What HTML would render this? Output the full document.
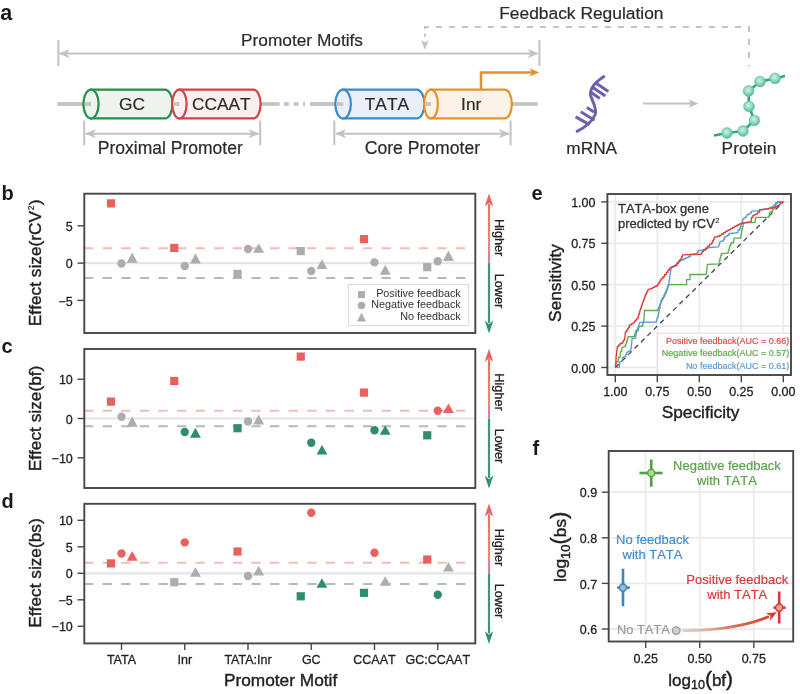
<!DOCTYPE html>
<html><head><meta charset="utf-8"><title>Promoter motifs figure</title>
<style>html,body{margin:0;padding:0;background:#fff;} svg{display:block;} text{font-family:"Liberation Sans", Arial, Helvetica, sans-serif;font-kerning:none;} text.k{font-kerning:normal;}</style>
</head><body>
<svg width="800" height="694" viewBox="0 0 800 694">
<rect width="800" height="694" fill="#fff"/>
<text x="0.30" y="19.70" font-size="21.5" text-anchor="start" fill="#1a1a1a" font-weight="bold" >a</text>
<text x="1.50" y="200.00" font-size="20" text-anchor="start" fill="#1a1a1a" font-weight="bold" >b</text>
<text x="1.50" y="352.70" font-size="20" text-anchor="start" fill="#1a1a1a" font-weight="bold" >c</text>
<text x="1.50" y="508.00" font-size="20" text-anchor="start" fill="#1a1a1a" font-weight="bold" >d</text>
<text x="531.50" y="200.00" font-size="20" text-anchor="start" fill="#1a1a1a" font-weight="bold" >e</text>
<text x="532.50" y="455.00" font-size="20" text-anchor="start" fill="#1a1a1a" font-weight="bold" >f</text>
<g stroke="#c3c3c3" stroke-width="2" fill="none">
<line x1="58.4" y1="40" x2="58.4" y2="66"/><line x1="539.4" y1="40" x2="539.4" y2="66"/>
<line x1="60" y1="53.6" x2="537" y2="53.6"/>
<line x1="84.2" y1="120.5" x2="84.2" y2="145.3"/><line x1="260.2" y1="120.5" x2="260.2" y2="145.3"/>
<line x1="86" y1="133.7" x2="258.5" y2="133.7"/>
<line x1="334.3" y1="120.5" x2="334.3" y2="145.3"/><line x1="510.6" y1="120.5" x2="510.6" y2="145.3"/>
<line x1="336" y1="133.7" x2="509" y2="133.7"/>
<line x1="643" y1="103.6" x2="692" y2="103.6"/>
</g>
<path d="M58.80,53.60 L69.80,49.00 L66.72,53.60 L69.80,58.20 Z" fill="#c3c3c3"/>
<path d="M538.60,53.60 L527.60,58.20 L530.68,53.60 L527.60,49.00 Z" fill="#c3c3c3"/>
<path d="M85.00,133.70 L96.00,129.10 L92.92,133.70 L96.00,138.30 Z" fill="#c3c3c3"/>
<path d="M259.40,133.70 L248.40,138.30 L251.48,133.70 L248.40,129.10 Z" fill="#c3c3c3"/>
<path d="M335.10,133.70 L346.10,129.10 L343.02,133.70 L346.10,138.30 Z" fill="#c3c3c3"/>
<path d="M509.80,133.70 L498.80,138.30 L501.88,133.70 L498.80,129.10 Z" fill="#c3c3c3"/>
<path d="M698.40,103.60 L688.40,108.00 L691.20,103.60 L688.40,99.20 Z" fill="#c3c3c3"/>
<path d="M424.9,30 V27 H749 V66" stroke="#c3c3c3" stroke-width="2" fill="none" stroke-dasharray="6 7" stroke-dashoffset="-1"/>
<line x1="424.9" y1="33.8" x2="424.9" y2="36.8" stroke="#c3c3c3" stroke-width="2"/>
<path d="M424.9,49.7 L428.6,40.2 L424.9,42.2 L421.2,40.2 Z" fill="#c3c3c3"/>
<text x="499.20" y="19.40" font-size="17.4" text-anchor="start" fill="#2a2a2a" font-weight="normal" stroke="#2a2a2a" stroke-width="0.2" >Feedback Regulation</text>
<text x="302.00" y="45.60" font-size="17.3" text-anchor="middle" fill="#2a2a2a" font-weight="normal" stroke="#2a2a2a" stroke-width="0.2" >Promoter Motifs</text>
<text x="170.30" y="154.00" font-size="17.5" text-anchor="middle" fill="#2a2a2a" font-weight="normal" stroke="#2a2a2a" stroke-width="0.2" >Proximal Promoter</text>
<text x="422.40" y="154.00" font-size="17.6" text-anchor="middle" fill="#2a2a2a" font-weight="normal" stroke="#2a2a2a" stroke-width="0.2" >Core Promoter</text>
<text x="591.70" y="153.70" font-size="17.3" text-anchor="middle" fill="#2a2a2a" font-weight="normal" stroke="#2a2a2a" stroke-width="0.2" >mRNA</text>
<text x="749.00" y="153.60" font-size="17.3" text-anchor="middle" fill="#2a2a2a" font-weight="normal" stroke="#2a2a2a" stroke-width="0.2" >Protein</text>
<g stroke="#c4c4c4" stroke-width="3.8" fill="none">
<line x1="57.3" y1="104" x2="91" y2="104"/>
<line x1="260" y1="104" x2="279.6" y2="104"/>
<line x1="284" y1="104" x2="288.8" y2="104"/><line x1="293.8" y1="104" x2="298.4" y2="104"/><line x1="303" y1="104" x2="305" y2="104"/>
<line x1="310" y1="104" x2="343" y2="104"/>
<line x1="511" y1="104" x2="537.8" y2="104"/>
</g>
<path d="M91,89.6 H164.9 A7.6,14.4 0 0 1 164.9,118.4 H91 Z" fill="#eff3ee" stroke="#23904a" stroke-width="2.2"/>
<ellipse cx="91" cy="104" rx="7.6" ry="14.4" fill="#eff3ee" stroke="#23904a" stroke-width="2.2"/>
<line x1="84.9" y1="104" x2="91" y2="104" stroke="#c4c4c4" stroke-width="3.8"/>
<text x="132.00" y="110.00" font-size="17.3" text-anchor="middle" fill="#2a2a2a" font-weight="normal" stroke="#2a2a2a" stroke-width="0.2" style="font-kerning:none">GC</text>
<path d="M179.4,89.6 H253.40000000000003 A7.2,14.4 0 0 1 253.40000000000003,118.4 H179.4 Z" fill="#fcf0ee" stroke="#cd444c" stroke-width="2.2"/>
<ellipse cx="179.4" cy="104" rx="7.2" ry="14.4" fill="#fcf0ee" stroke="#cd444c" stroke-width="2.2"/>
<line x1="173.70000000000002" y1="104" x2="179.4" y2="104" stroke="#c4c4c4" stroke-width="3.8"/>
<text x="221.40" y="110.00" font-size="17.3" text-anchor="middle" fill="#2a2a2a" font-weight="normal" stroke="#2a2a2a" stroke-width="0.2" style="font-kerning:none">CCAAT</text>
<path d="M343.1,89.6 H416.7 A7.8,14.4 0 0 1 416.7,118.4 H343.1 Z" fill="#e9eef8" stroke="#3a89c9" stroke-width="2.2"/>
<ellipse cx="343.1" cy="104" rx="7.8" ry="14.4" fill="#e9eef8" stroke="#3a89c9" stroke-width="2.2"/>
<line x1="336.8" y1="104" x2="343.1" y2="104" stroke="#c4c4c4" stroke-width="3.8"/>
<text x="386.90" y="110.00" font-size="17.3" text-anchor="middle" fill="#2a2a2a" font-weight="normal" stroke="#2a2a2a" stroke-width="0.2" style="font-kerning:none">TATA</text>
<path d="M431,89.6 H504.90000000000003 A6.9,14.4 0 0 1 504.90000000000003,118.4 H431 Z" fill="#fdf2e8" stroke="#e3922c" stroke-width="2.2"/>
<ellipse cx="431" cy="104" rx="6.9" ry="14.4" fill="#fdf2e8" stroke="#e3922c" stroke-width="2.2"/>
<line x1="425.6" y1="104" x2="431" y2="104" stroke="#c4c4c4" stroke-width="3.8"/>
<text x="471.20" y="110.00" font-size="17.3" text-anchor="middle" fill="#2a2a2a" font-weight="normal" stroke="#2a2a2a" stroke-width="0.2" style="font-kerning:none">Inr</text>
<path d="M481,89.8 V72.4 H532" stroke="#e3922c" stroke-width="2.5" fill="none"/>
<path d="M539.40,72.40 L529.40,76.60 L532.20,72.40 L529.40,68.20 Z" fill="#e3922c"/>
<g stroke="#6a62ad" stroke-width="3" fill="none" stroke-linecap="butt">
<path d="M576.1,131.9 C585,127.5 592,122 595,115 C597.5,108 592,101 590.6,95.3 C589.5,88 597,81 604.7,76.1"/>
<line x1="595.8" y1="83.1" x2="608.4" y2="91.6"/>
<line x1="592.8" y1="87.6" x2="605.4" y2="96.1"/>
<line x1="591.2" y1="92.6" x2="599.8" y2="98.4"/>
<line x1="586.9" y1="107.5" x2="593.9" y2="111.9"/>
<line x1="580.8" y1="111.7" x2="594.6" y2="120.2"/>
<line x1="575.6" y1="116.9" x2="589.6" y2="124.6"/>
</g>
<defs><radialGradient id="bead" cx="45%" cy="40%" r="60%"><stop offset="0" stop-color="#d4f3e6"/><stop offset="0.55" stop-color="#8fd8bd"/><stop offset="1" stop-color="#4dbb96"/></radialGradient></defs>
<polyline points="714,135.6 727,133 743,131 754.4,120.4 749,106.4 748.6,91 760,81.6 775,78.4 785,76" stroke="#2fa383" stroke-width="2.6" fill="none"/>
<circle cx="727" cy="133" r="5.4" fill="url(#bead)" stroke="#5cc3a0" stroke-width="0.6"/>
<circle cx="743" cy="131" r="5.4" fill="url(#bead)" stroke="#5cc3a0" stroke-width="0.6"/>
<circle cx="754.4" cy="120.4" r="5.4" fill="url(#bead)" stroke="#5cc3a0" stroke-width="0.6"/>
<circle cx="749" cy="106.4" r="5.4" fill="url(#bead)" stroke="#5cc3a0" stroke-width="0.6"/>
<circle cx="748.6" cy="91" r="5.4" fill="url(#bead)" stroke="#5cc3a0" stroke-width="0.6"/>
<circle cx="760" cy="81.6" r="5.4" fill="url(#bead)" stroke="#5cc3a0" stroke-width="0.6"/>
<circle cx="775" cy="78.4" r="5.4" fill="url(#bead)" stroke="#5cc3a0" stroke-width="0.6"/>
<line x1="84.3" y1="263.1" x2="475.3" y2="263.1" stroke="#e5e5e5" stroke-width="2.2"/>
<line x1="84" y1="248.18" x2="468" y2="248.18" stroke="#f4bdb4" stroke-width="2" stroke-dasharray="9.3 9.3"/>
<line x1="84" y1="278.02" x2="468" y2="278.02" stroke="#adbeb5" stroke-width="2" stroke-dasharray="9.3 9.3"/>
<rect x="106.90" y="199.30" width="8.2" height="8.2" fill="#e8615f"/>
<circle cx="121.50" cy="263.50" r="4.2" fill="#adadad"/>
<path d="M132.20,252.50 L137.65,262.75 L126.75,262.75 Z" fill="#adadad"/>
<rect x="170.15" y="243.80" width="8.2" height="8.2" fill="#e8615f"/>
<circle cx="184.75" cy="266.00" r="4.2" fill="#adadad"/>
<path d="M195.45,253.25 L200.90,263.50 L190.00,263.50 Z" fill="#adadad"/>
<rect x="233.40" y="269.80" width="8.2" height="8.2" fill="#adadad"/>
<circle cx="248.00" cy="249.00" r="4.2" fill="#adadad"/>
<path d="M258.70,243.50 L264.15,252.70 L253.25,252.70 Z" fill="#adadad"/>
<rect x="296.65" y="247.00" width="8.2" height="8.2" fill="#adadad"/>
<circle cx="311.25" cy="271.00" r="4.2" fill="#adadad"/>
<path d="M321.95,259.25 L327.40,269.00 L316.50,269.00 Z" fill="#adadad"/>
<rect x="359.90" y="235.00" width="8.2" height="8.2" fill="#e8615f"/>
<circle cx="374.50" cy="262.40" r="4.2" fill="#adadad"/>
<path d="M385.20,264.90 L390.65,274.75 L379.75,274.75 Z" fill="#adadad"/>
<rect x="423.15" y="263.10" width="8.2" height="8.2" fill="#adadad"/>
<circle cx="437.75" cy="261.25" r="4.2" fill="#adadad"/>
<path d="M448.45,250.50 L453.90,260.90 L443.00,260.90 Z" fill="#adadad"/>
<rect x="84.3" y="193.7" width="391.0" height="139.3" fill="none" stroke="#474747" stroke-width="1.9"/>
<line x1="77.5" y1="225.80" x2="84.3" y2="225.80" stroke="#474747" stroke-width="1.4"/>
<text x="72.80" y="230.90" font-size="12.5" text-anchor="end" fill="#231f20" font-weight="normal" stroke="#231f20" stroke-width="0.3" >5</text>
<line x1="77.5" y1="263.10" x2="84.3" y2="263.10" stroke="#474747" stroke-width="1.4"/>
<text x="72.80" y="268.20" font-size="12.5" text-anchor="end" fill="#231f20" font-weight="normal" stroke="#231f20" stroke-width="0.3" >0</text>
<line x1="77.5" y1="300.40" x2="84.3" y2="300.40" stroke="#474747" stroke-width="1.4"/>
<text x="72.80" y="305.50" font-size="12.5" text-anchor="end" fill="#231f20" font-weight="normal" stroke="#231f20" stroke-width="0.3" >&#8722;5</text>
<text transform="translate(40.5,262.8) rotate(-90)" x="0" y="0" font-size="17.3" text-anchor="middle" fill="#231f20" stroke="#231f20" stroke-width="0.42">Effect size(rCV<tspan font-size="8.5" dx="0.6" dy="-6.2" stroke-width="0.2">2</tspan><tspan dx="0.4" dy="6.2">)</tspan></text>
<defs><linearGradient id="sa193" x1="0" y1="193.7" x2="0" y2="263.1" gradientUnits="userSpaceOnUse"><stop offset="0" stop-color="#e56b66"/><stop offset="0.75" stop-color="#e8867a"/><stop offset="0.88" stop-color="#dc7f9a"/><stop offset="1" stop-color="#c98aa6"/></linearGradient></defs>
<line x1="489" y1="203.7" x2="489" y2="263.1" stroke="url(#sa193)" stroke-width="2.2"/>
<line x1="489" y1="263.1" x2="489" y2="323" stroke="#379a7b" stroke-width="2.2"/>
<path d="M489.00,193.50 L493.30,206.50 L489.00,202.86 L484.70,206.50 Z" fill="#e5625f"/>
<path d="M489.00,333.60 L484.70,320.60 L489.00,324.24 L493.30,320.60 Z" fill="#2f8f70"/>
<text transform="translate(494.5,237.6) rotate(90)" x="0" y="0" font-size="12.7" text-anchor="middle" fill="#231f20" stroke="#231f20" stroke-width="0.3">Higher</text>
<text transform="translate(494.5,291) rotate(90)" x="0" y="0" font-size="12.7" text-anchor="middle" fill="#231f20" stroke="#231f20" stroke-width="0.3">Lower</text>
<line x1="84.3" y1="418.5" x2="475.3" y2="418.5" stroke="#e5e5e5" stroke-width="2.2"/>
<line x1="84" y1="410.64" x2="468" y2="410.64" stroke="#f4bdb4" stroke-width="2" stroke-dasharray="9.3 9.3"/>
<line x1="84" y1="426.36" x2="468" y2="426.36" stroke="#adbeb5" stroke-width="2" stroke-dasharray="9.3 9.3"/>
<rect x="106.90" y="397.50" width="8.2" height="8.2" fill="#e8615f"/>
<circle cx="121.50" cy="416.70" r="4.2" fill="#adadad"/>
<path d="M132.20,416.50 L137.65,426.75 L126.75,426.75 Z" fill="#adadad"/>
<rect x="170.15" y="376.90" width="8.2" height="8.2" fill="#e8615f"/>
<circle cx="184.75" cy="432.00" r="4.2" fill="#2f8d6c"/>
<path d="M195.45,427.75 L200.90,437.70 L190.00,437.70 Z" fill="#2f8d6c"/>
<rect x="233.40" y="424.10" width="8.2" height="8.2" fill="#2f8d6c"/>
<circle cx="248.00" cy="421.50" r="4.2" fill="#adadad"/>
<path d="M258.70,414.50 L264.15,424.50 L253.25,424.50 Z" fill="#adadad"/>
<rect x="296.65" y="352.50" width="8.2" height="8.2" fill="#e8615f"/>
<circle cx="311.25" cy="442.70" r="4.2" fill="#2f8d6c"/>
<path d="M321.95,445.10 L327.40,454.60 L316.50,454.60 Z" fill="#2f8d6c"/>
<rect x="359.90" y="388.50" width="8.2" height="8.2" fill="#e8615f"/>
<circle cx="374.50" cy="430.30" r="4.2" fill="#2f8d6c"/>
<path d="M385.20,425.30 L390.65,434.80 L379.75,434.80 Z" fill="#2f8d6c"/>
<rect x="423.15" y="431.20" width="8.2" height="8.2" fill="#2f8d6c"/>
<circle cx="437.75" cy="410.75" r="4.2" fill="#e8615f"/>
<path d="M448.45,403.50 L453.90,413.00 L443.00,413.00 Z" fill="#e8615f"/>
<rect x="84.3" y="349" width="391.0" height="139" fill="none" stroke="#474747" stroke-width="1.9"/>
<line x1="77.5" y1="379.20" x2="84.3" y2="379.20" stroke="#474747" stroke-width="1.4"/>
<text x="72.80" y="384.30" font-size="12.5" text-anchor="end" fill="#231f20" font-weight="normal" stroke="#231f20" stroke-width="0.3" >10</text>
<line x1="77.5" y1="418.50" x2="84.3" y2="418.50" stroke="#474747" stroke-width="1.4"/>
<text x="72.80" y="423.60" font-size="12.5" text-anchor="end" fill="#231f20" font-weight="normal" stroke="#231f20" stroke-width="0.3" >0</text>
<line x1="77.5" y1="457.80" x2="84.3" y2="457.80" stroke="#474747" stroke-width="1.4"/>
<text x="72.80" y="462.90" font-size="12.5" text-anchor="end" fill="#231f20" font-weight="normal" stroke="#231f20" stroke-width="0.3" >&#8722;10</text>
<text transform="translate(40.5,418.5) rotate(-90)" x="0" y="0" font-size="17.3" text-anchor="middle" fill="#231f20" stroke="#231f20" stroke-width="0.42">Effect size(bf)</text>
<defs><linearGradient id="sa349" x1="0" y1="349" x2="0" y2="418.5" gradientUnits="userSpaceOnUse"><stop offset="0" stop-color="#e56b66"/><stop offset="0.75" stop-color="#e8867a"/><stop offset="0.88" stop-color="#dc7f9a"/><stop offset="1" stop-color="#c98aa6"/></linearGradient></defs>
<line x1="489" y1="359" x2="489" y2="418.5" stroke="url(#sa349)" stroke-width="2.2"/>
<line x1="489" y1="418.5" x2="489" y2="478" stroke="#379a7b" stroke-width="2.2"/>
<path d="M489.00,348.80 L493.30,361.80 L489.00,358.16 L484.70,361.80 Z" fill="#e5625f"/>
<path d="M489.00,488.60 L484.70,475.60 L489.00,479.24 L493.30,475.60 Z" fill="#2f8f70"/>
<text transform="translate(494.5,392) rotate(90)" x="0" y="0" font-size="12.7" text-anchor="middle" fill="#231f20" stroke="#231f20" stroke-width="0.3">Higher</text>
<text transform="translate(494.5,446) rotate(90)" x="0" y="0" font-size="12.7" text-anchor="middle" fill="#231f20" stroke="#231f20" stroke-width="0.3">Lower</text>
<line x1="84.3" y1="573.3" x2="475.3" y2="573.3" stroke="#e5e5e5" stroke-width="2.2"/>
<line x1="84" y1="562.70" x2="468" y2="562.70" stroke="#f4bdb4" stroke-width="2" stroke-dasharray="9.3 9.3"/>
<line x1="84" y1="583.90" x2="468" y2="583.90" stroke="#adbeb5" stroke-width="2" stroke-dasharray="9.3 9.3"/>
<rect x="106.90" y="559.30" width="8.2" height="8.2" fill="#e8615f"/>
<circle cx="121.50" cy="553.50" r="4.2" fill="#e8615f"/>
<path d="M132.20,550.90 L137.65,560.75 L126.75,560.75 Z" fill="#e8615f"/>
<rect x="170.15" y="578.10" width="8.2" height="8.2" fill="#adadad"/>
<circle cx="184.75" cy="542.40" r="4.2" fill="#e8615f"/>
<path d="M195.45,567.00 L200.90,576.80 L190.00,576.80 Z" fill="#adadad"/>
<rect x="233.40" y="547.40" width="8.2" height="8.2" fill="#e8615f"/>
<circle cx="248.00" cy="576.00" r="4.2" fill="#adadad"/>
<path d="M258.70,565.80 L264.15,575.40 L253.25,575.40 Z" fill="#adadad"/>
<rect x="296.65" y="592.20" width="8.2" height="8.2" fill="#2f8d6c"/>
<circle cx="311.25" cy="512.75" r="4.2" fill="#e8615f"/>
<path d="M321.95,578.20 L327.40,587.70 L316.50,587.70 Z" fill="#2f8d6c"/>
<rect x="359.90" y="588.75" width="8.2" height="8.2" fill="#2f8d6c"/>
<circle cx="374.50" cy="552.80" r="4.2" fill="#e8615f"/>
<path d="M385.20,576.20 L390.65,585.70 L379.75,585.70 Z" fill="#adadad"/>
<rect x="423.15" y="555.40" width="8.2" height="8.2" fill="#e8615f"/>
<circle cx="437.75" cy="594.70" r="4.2" fill="#2f8d6c"/>
<path d="M448.45,562.00 L453.90,571.50 L443.00,571.50 Z" fill="#adadad"/>
<rect x="84.3" y="503.8" width="391.0" height="139.59999999999997" fill="none" stroke="#474747" stroke-width="1.9"/>
<line x1="77.5" y1="520.30" x2="84.3" y2="520.30" stroke="#474747" stroke-width="1.4"/>
<text x="72.80" y="525.40" font-size="12.5" text-anchor="end" fill="#231f20" font-weight="normal" stroke="#231f20" stroke-width="0.3" >10</text>
<line x1="77.5" y1="546.80" x2="84.3" y2="546.80" stroke="#474747" stroke-width="1.4"/>
<text x="72.80" y="551.90" font-size="12.5" text-anchor="end" fill="#231f20" font-weight="normal" stroke="#231f20" stroke-width="0.3" >5</text>
<line x1="77.5" y1="573.30" x2="84.3" y2="573.30" stroke="#474747" stroke-width="1.4"/>
<text x="72.80" y="578.40" font-size="12.5" text-anchor="end" fill="#231f20" font-weight="normal" stroke="#231f20" stroke-width="0.3" >0</text>
<line x1="77.5" y1="599.80" x2="84.3" y2="599.80" stroke="#474747" stroke-width="1.4"/>
<text x="72.80" y="604.90" font-size="12.5" text-anchor="end" fill="#231f20" font-weight="normal" stroke="#231f20" stroke-width="0.3" >&#8722;5</text>
<line x1="77.5" y1="626.30" x2="84.3" y2="626.30" stroke="#474747" stroke-width="1.4"/>
<text x="72.80" y="631.40" font-size="12.5" text-anchor="end" fill="#231f20" font-weight="normal" stroke="#231f20" stroke-width="0.3" >&#8722;10</text>
<text transform="translate(40.5,573) rotate(-90)" x="0" y="0" font-size="17.3" text-anchor="middle" fill="#231f20" stroke="#231f20" stroke-width="0.42">Effect size(bs)</text>
<defs><linearGradient id="sa503" x1="0" y1="503.8" x2="0" y2="573.3" gradientUnits="userSpaceOnUse"><stop offset="0" stop-color="#e56b66"/><stop offset="0.75" stop-color="#e8867a"/><stop offset="0.88" stop-color="#dc7f9a"/><stop offset="1" stop-color="#c98aa6"/></linearGradient></defs>
<line x1="489" y1="513.8" x2="489" y2="573.3" stroke="url(#sa503)" stroke-width="2.2"/>
<line x1="489" y1="573.3" x2="489" y2="633.4" stroke="#379a7b" stroke-width="2.2"/>
<path d="M489.00,503.60 L493.30,516.60 L489.00,512.96 L484.70,516.60 Z" fill="#e5625f"/>
<path d="M489.00,644.00 L484.70,631.00 L489.00,634.64 L493.30,631.00 Z" fill="#2f8f70"/>
<text transform="translate(494.5,547.5) rotate(90)" x="0" y="0" font-size="12.7" text-anchor="middle" fill="#231f20" stroke="#231f20" stroke-width="0.3">Higher</text>
<text transform="translate(494.5,601) rotate(90)" x="0" y="0" font-size="12.7" text-anchor="middle" fill="#231f20" stroke="#231f20" stroke-width="0.3">Lower</text>
<rect x="348.4" y="284.5" width="120.2" height="41.1" fill="#fff" stroke="#d9d9d9" stroke-width="1"/>
<rect x="358.00" y="291.10" width="7" height="7" fill="#adadad"/>
<circle cx="361.50" cy="305.50" r="3.8" fill="#adadad"/>
<path d="M361.50,312.80 L366.00,321.40 L357.00,321.40 Z" fill="#adadad"/>
<text x="460.75" y="297.25" font-size="10.8" text-anchor="end" fill="#333" font-weight="normal" >Positive feedback</text>
<text x="460.75" y="308.20" font-size="10.8" text-anchor="end" fill="#333" font-weight="normal" >Negative feedback</text>
<text x="460.75" y="319.50" font-size="10.8" text-anchor="end" fill="#333" font-weight="normal" >No feedback</text>
<line x1="121.50" y1="643.4" x2="121.50" y2="650" stroke="#474747" stroke-width="1.4"/>
<text x="121.50" y="664.00" font-size="12.5" text-anchor="middle" fill="#231f20" font-weight="normal" stroke="#231f20" stroke-width="0.3" class="k">TATA</text>
<line x1="184.75" y1="643.4" x2="184.75" y2="650" stroke="#474747" stroke-width="1.4"/>
<text x="184.75" y="664.00" font-size="12.5" text-anchor="middle" fill="#231f20" font-weight="normal" stroke="#231f20" stroke-width="0.3" >Inr</text>
<line x1="248.00" y1="643.4" x2="248.00" y2="650" stroke="#474747" stroke-width="1.4"/>
<text x="248.00" y="664.00" font-size="12.5" text-anchor="middle" fill="#231f20" font-weight="normal" stroke="#231f20" stroke-width="0.3" class="k">TATA:Inr</text>
<line x1="311.25" y1="643.4" x2="311.25" y2="650" stroke="#474747" stroke-width="1.4"/>
<text x="311.25" y="664.00" font-size="12.5" text-anchor="middle" fill="#231f20" font-weight="normal" stroke="#231f20" stroke-width="0.3" >GC</text>
<line x1="374.50" y1="643.4" x2="374.50" y2="650" stroke="#474747" stroke-width="1.4"/>
<text x="374.50" y="664.00" font-size="12.5" text-anchor="middle" fill="#231f20" font-weight="normal" stroke="#231f20" stroke-width="0.3" >CCAAT</text>
<line x1="437.75" y1="643.4" x2="437.75" y2="650" stroke="#474747" stroke-width="1.4"/>
<text x="437.75" y="664.00" font-size="12.5" text-anchor="middle" fill="#231f20" font-weight="normal" stroke="#231f20" stroke-width="0.3" >GC:CCAAT</text>
<text x="280.60" y="685.70" font-size="17.3" text-anchor="middle" fill="#231f20" font-weight="normal" stroke="#231f20" stroke-width="0.42" >Promoter Motif</text>
<g stroke="#ebebeb" stroke-width="1.8">
<line x1="783.30" y1="194.8" x2="783.30" y2="374.2"/>
<line x1="608.2" y1="367.50" x2="790.2" y2="367.50"/>
<line x1="741.30" y1="194.8" x2="741.30" y2="374.2"/>
<line x1="608.2" y1="326.10" x2="790.2" y2="326.10"/>
<line x1="699.30" y1="194.8" x2="699.30" y2="374.2"/>
<line x1="608.2" y1="284.70" x2="790.2" y2="284.70"/>
<line x1="657.30" y1="194.8" x2="657.30" y2="374.2"/>
<line x1="608.2" y1="243.30" x2="790.2" y2="243.30"/>
<line x1="615.30" y1="194.8" x2="615.30" y2="374.2"/>
<line x1="608.2" y1="201.90" x2="790.2" y2="201.90"/>
</g>
<line x1="615.3" y1="367.5" x2="783.3" y2="201.9" stroke="#444" stroke-width="1.3" stroke-dasharray="5 4"/>
<polyline points="615.3,367.6 615.3,365.97 615.57,365.97 615.57,364.33 615.83,364.33 615.83,362.7 616.1,362.7 616.1,361.9 618.1,361.9 618.5,357.5 620.1,357.1 620.5,352.3 620.5,351.5 621.7,351.5 622.1,347.4 625.3,346.6 625.3,344.73 626.0,344.73 626.0,342.87 626.7,342.87 626.7,341.0 627.4,341.0 627.4,338.95 627.8,338.95 627.8,336.9 628.2,336.9 634.6,336.5 634.6,334.3 635.2,334.3 635.2,332.1 635.8,332.1 635.8,330.5 638.2,330.5 639,326.5 642.7,326 642.7,324.05 643.2,324.05 643.2,322.1 643.7,322.1 644.4,310.5 658,310.5 658,308.97 658.63,308.97 658.63,307.43 659.27,307.43 659.27,305.9 659.9,305.9 659.9,304.17 660.57,304.17 660.57,302.43 661.23,302.43 661.23,300.7 661.9,300.7 661.9,299.0 662.77,299.0 662.77,297.3 663.63,297.3 663.63,295.6 664.5,295.6 664.5,293.87 665.37,293.87 665.37,292.13 666.23,292.13 666.23,290.4 667.1,290.4 667.1,288.67 667.53,288.67 667.53,286.93 667.97,286.93 667.97,285.2 668.4,285.2 669.7,284.6 686.6,284.6 686.6,279.6 690,279.6 690,274.5 706.25,274.5 706.8,270 707.4,264.4 719.2,263.8 719.2,262.12 719.57,262.12 719.57,260.43 719.93,260.43 719.93,258.75 720.3,258.75 720.3,257.07 720.87,257.07 720.87,255.38 721.43,255.38 721.43,253.7 722.0,253.7 728.2,253.1 728.2,251.1 728.77,251.1 728.77,249.1 729.33,249.1 729.33,247.1 729.9,247.1 729.9,245.3 730.8,245.3 730.8,243.5 731.7,243.5 731.7,242.6 733.5,242.6 734,238.1 740.7,238.1 740.7,236.3 741.0,236.3 741.0,234.5 741.3,234.5 741.3,232.7 741.6,232.7 741.6,230.6 742.07,230.6 742.07,228.5 742.53,228.5 742.53,226.4 743.0,226.4 743.4,222.8 755.1,222.35 755.1,220.7 755.4,220.7 755.4,219.05 755.7,219.05 755.7,217.4 756.0,217.4 769,217.4 769.5,212.45 772.2,212 772.2,210.2 773.1,210.2 773.1,208.4 774.0,208.4 774,207.05 774.9,207.05 774.9,205.7 775.8,205.7 775.8,203.0 777.6,203.0 777.6,201.65 779.4,201.65 783.3,201.9" stroke="#5aab4a" stroke-width="1.3" fill="none" stroke-linejoin="round"/>
<polyline points="616.1,367.6 619.3,367.2 619.7,361.9 622.1,361.1 622.5,358.3 622.5,357.5 624.1,357.5 624.1,356.7 625.7,356.7 625.7,354.5 626.75,354.5 626.75,352.3 627.8,352.3 627.8,351.65 629.2,351.65 629.2,351.0 630.6,351.0 631.4,346.6 631.4,344.98 631.56,344.98 631.56,343.36 631.72,343.36 631.72,341.74 631.88,341.74 631.88,340.12 632.04,340.12 632.04,338.5 632.2,338.5 635.8,338.1 635.8,336.37 636.07,336.37 636.07,334.63 636.33,334.63 636.33,332.9 636.6,332.9 636.6,331.03 637.27,331.03 637.27,329.17 637.93,329.17 637.93,327.3 638.6,327.3 639,324.8 639.8,322.4 656.4,322 656.4,319.8 657.2,319.8 657.2,317.6 658.0,317.6 658,315.98 658.33,315.98 658.33,314.35 658.65,314.35 658.65,312.73 658.98,312.73 658.98,311.1 659.3,311.1 659.3,309.28 659.68,309.28 659.68,307.46 660.06,307.46 660.06,305.64 660.44,305.64 660.44,303.82 660.82,303.82 660.82,302.0 661.2,302.0 661.2,300.3 662.3,300.3 662.3,298.6 663.4,298.6 663.4,296.9 664.5,296.9 664.5,295.27 665.15,295.27 665.15,293.65 665.8,293.65 665.8,292.02 666.45,292.02 666.45,290.4 667.1,290.4 667.1,288.85 667.6,288.85 667.6,287.3 668.1,287.3 668.1,285.75 668.6,285.75 668.6,283.88 668.88,283.88 668.88,282.0 669.15,282.0 669.15,280.12 669.42,280.12 669.42,278.25 669.7,278.25 669.7,276.38 669.97,276.38 669.97,274.5 670.25,274.5 670.25,272.81 670.54,272.81 670.54,271.12 670.83,271.12 670.83,269.44 671.11,269.44 671.11,267.75 671.4,267.75 671.4,267.0 673.27,267.0 673.27,266.25 675.13,266.25 675.13,265.5 677.0,265.5 677,263.25 678.7,263.25 678.7,261.0 680.4,261.0 680.4,260.25 682.27,260.25 682.27,259.5 684.13,259.5 684.13,258.75 686.0,258.75 686,257.62 688.25,257.62 688.25,256.5 690.5,256.5 690.5,254.25 692.75,254.25 697.25,253.7 697.25,252.0 698.38,252.0 698.38,250.3 699.5,250.3 706.25,249.75 706.25,248.62 707.92,248.62 707.92,247.5 709.6,247.5 718.6,246.9 718.6,245.23 719.17,245.23 719.17,243.57 719.73,243.57 719.73,241.9 720.3,241.9 720.3,241.35 721.95,241.35 721.95,240.8 723.6,240.8 723.6,239.0 724.5,239.0 724.5,237.2 725.4,237.2 725.4,236.3 727.2,236.3 727.2,235.4 729.0,235.4 729,233.6 729.9,233.6 729.9,233.42 731.52,233.42 731.52,233.24 733.14,233.24 733.14,233.06 734.76,233.06 734.76,232.88 736.38,232.88 736.38,232.7 738.0,232.7 738,230.0 739.8,230.0 739.8,228.2 740.4,228.2 740.4,226.4 741.0,226.4 741.0,224.6 741.6,224.6 741.6,222.8 742.2,222.8 742.2,221.0 742.8,221.0 742.8,219.2 743.4,219.2 743.4,218.3 744.75,218.3 744.75,217.4 746.1,217.4 746.1,216.05 747.0,216.05 747.0,214.7 747.9,214.7 747.9,214.25 749.25,214.25 749.25,213.8 750.6,213.8 750.6,212.45 751.5,212.45 751.5,211.1 752.4,211.1 759.6,210.65 759.6,209.75 761.4,209.75 761.4,209.48 763.2,209.48 763.2,209.21 765.0,209.21 765.0,208.94 766.8,208.94 766.8,208.67 768.6,208.67 768.6,208.4 770.4,208.4 770.4,207.5 772.2,207.5 772.2,206.6 774.0,206.6 774,204.8 775.8,204.8 775.8,203.0 777.6,203.0 777.6,202.32 779.85,202.32 779.85,201.65 782.1,201.65 783.3,201.9" stroke="#5b9bd5" stroke-width="1.3" fill="none" stroke-linejoin="round"/>
<polyline points="615.7,366.8 616.1,357.9 616.1,355.96 616.34,355.96 616.34,354.02 616.58,354.02 616.58,352.08 616.82,352.08 616.82,350.14 617.06,350.14 617.06,348.2 617.3,348.2 617.3,346.6 618.7,346.6 618.7,345.0 620.1,345.0 620.1,343.4 622.5,343.4 622.5,341.8 623.5,341.8 623.5,340.2 624.5,340.2 625.3,333.7 625.3,332.1 626.35,332.1 626.35,330.5 627.4,330.5 627.4,328.9 628.4,328.9 628.4,327.3 629.4,327.3 629.4,324.8 631.4,324.8 631.4,323.8 633.0,323.8 633.0,322.8 634.6,322.8 634.6,320.85 636.25,320.85 636.25,318.9 637.9,318.9 637.9,317.27 638.38,317.27 638.38,315.65 638.85,315.65 638.85,314.02 639.33,314.02 639.33,312.4 639.8,312.4 639.8,310.45 640.45,310.45 640.45,308.5 641.1,308.5 641.1,306.55 641.75,306.55 641.75,304.6 642.4,304.6 642.4,302.8 643.06,302.8 643.06,301.0 643.72,301.0 643.72,299.2 644.38,299.2 644.38,297.4 645.04,297.4 645.04,295.6 645.7,295.6 645.7,293.63 646.77,293.63 646.77,291.67 647.83,291.67 647.83,289.7 648.9,289.7 648.9,289.05 650.85,289.05 650.85,288.4 652.8,288.4 652.8,287.4 654.5,287.4 654.5,286.57 656.2,286.57 656.2,285.75 657.9,285.75 657.9,283.87 659.02,283.87 659.02,281.98 660.13,281.98 660.13,280.1 661.25,280.1 661.25,278.43 662.92,278.43 662.92,276.75 664.6,276.75 664.6,274.5 666.3,274.5 666.3,272.25 668.0,272.25 668,270.27 669.4,270.27 669.4,268.3 670.8,268.3 670.8,267.45 672.5,267.45 672.5,266.6 674.2,266.6 674.2,265.75 675.6,265.75 675.6,264.9 677.0,264.9 677,263.23 678.33,263.23 678.33,261.57 679.67,261.57 679.67,259.9 681.0,259.9 681,258.2 681.73,258.2 681.73,256.5 682.47,256.5 682.47,254.8 683.2,254.8 701.2,254.25 701.2,252.82 702.3,252.82 702.3,251.4 703.4,251.4 703.4,249.75 705.4,249.75 705.4,248.1 707.4,248.1 707.4,246.1 709.65,246.1 709.65,244.1 711.9,244.1 711.9,242.43 712.74,242.43 712.74,240.75 713.57,240.75 713.57,239.07 714.41,239.07 714.41,237.4 715.25,237.4 715.25,236.82 717.5,236.82 717.5,236.25 719.75,236.25 719.75,235.12 721.67,235.12 721.67,234.0 723.6,234.0 723.6,232.68 725.4,232.68 725.4,231.35 727.2,231.35 727.2,230.45 729.0,230.45 729.0,229.55 730.8,229.55 730.8,228.43 732.6,228.43 732.6,227.3 734.4,227.3 734.4,226.4 736.2,226.4 736.2,225.5 738.0,225.5 738,224.6 739.8,224.6 739.8,223.7 741.6,223.7 741.6,223.25 743.4,223.25 743.4,222.8 745.2,222.8 745.2,222.5 747.13,222.5 747.13,222.2 749.07,222.2 749.07,221.9 751.0,221.9 751.5,219.2 751.5,217.4 752.85,217.4 752.85,215.6 754.2,215.6 754.2,214.7 756.0,214.7 756.0,213.8 757.8,213.8 757.8,212.0 759.6,212.0 759.6,209.75 761.4,209.75 761.4,209.53 763.2,209.53 763.2,209.3 765.0,209.3 765.0,209.08 766.8,209.08 766.8,208.85 768.6,208.85 768.6,208.43 770.4,208.43 770.4,208.0 772.2,208.0 775.8,207.5 775.8,206.6 777.6,206.6 777.6,205.7 779.4,205.7 779.4,204.12 780.75,204.12 780.75,202.55 782.1,202.55 783.3,201.9" stroke="#e2393c" stroke-width="1.3" fill="none" stroke-linejoin="round"/>
<rect x="657.6" y="333.2" width="133" height="42" fill="#fff" stroke="#dcdcdc" stroke-width="1"/>
<text x="789.20" y="343.70" font-size="9" text-anchor="end" fill="#e0474a" font-weight="normal" stroke="#e0474a" stroke-width="0.18" >Positive feedback(AUC = 0.66)</text>
<text x="789.20" y="356.20" font-size="9" text-anchor="end" fill="#5aa84a" font-weight="normal" stroke="#5aa84a" stroke-width="0.18" >Negative feedback(AUC = 0.57)</text>
<text x="789.20" y="369.40" font-size="9" text-anchor="end" fill="#5b9bd5" font-weight="normal" stroke="#5b9bd5" stroke-width="0.18" >No feedback(AUC = 0.61)</text>
<rect x="607.4" y="194" width="183.6" height="181" fill="none" stroke="#474747" stroke-width="1.9"/>
<text x="618.00" y="213.25" font-size="13" text-anchor="start" fill="#333" font-weight="normal" stroke="#333" stroke-width="0.3" >TATA-box gene</text>
<text x="618.00" y="228.25" font-size="13" text-anchor="start" fill="#333" font-weight="normal" stroke="#333" stroke-width="0.3" >predicted by rCV<tspan font-size="7.5" dx="0.5" dy="-5" stroke-width="0.15">2</tspan></text>
<line x1="601.2" y1="201.90" x2="607.4" y2="201.90" stroke="#474747" stroke-width="1.4"/>
<text x="595.50" y="207.00" font-size="12.5" text-anchor="end" fill="#231f20" font-weight="normal" stroke="#231f20" stroke-width="0.3" >1.00</text>
<line x1="615.30" y1="375" x2="615.30" y2="382.2" stroke="#474747" stroke-width="1.4"/>
<text x="615.30" y="396.00" font-size="12.5" text-anchor="middle" fill="#231f20" font-weight="normal" stroke="#231f20" stroke-width="0.3" >1.00</text>
<line x1="601.2" y1="243.30" x2="607.4" y2="243.30" stroke="#474747" stroke-width="1.4"/>
<text x="595.50" y="248.40" font-size="12.5" text-anchor="end" fill="#231f20" font-weight="normal" stroke="#231f20" stroke-width="0.3" >0.75</text>
<line x1="657.30" y1="375" x2="657.30" y2="382.2" stroke="#474747" stroke-width="1.4"/>
<text x="657.30" y="396.00" font-size="12.5" text-anchor="middle" fill="#231f20" font-weight="normal" stroke="#231f20" stroke-width="0.3" >0.75</text>
<line x1="601.2" y1="284.70" x2="607.4" y2="284.70" stroke="#474747" stroke-width="1.4"/>
<text x="595.50" y="289.80" font-size="12.5" text-anchor="end" fill="#231f20" font-weight="normal" stroke="#231f20" stroke-width="0.3" >0.50</text>
<line x1="699.30" y1="375" x2="699.30" y2="382.2" stroke="#474747" stroke-width="1.4"/>
<text x="699.30" y="396.00" font-size="12.5" text-anchor="middle" fill="#231f20" font-weight="normal" stroke="#231f20" stroke-width="0.3" >0.50</text>
<line x1="601.2" y1="326.10" x2="607.4" y2="326.10" stroke="#474747" stroke-width="1.4"/>
<text x="595.50" y="331.20" font-size="12.5" text-anchor="end" fill="#231f20" font-weight="normal" stroke="#231f20" stroke-width="0.3" >0.25</text>
<line x1="741.30" y1="375" x2="741.30" y2="382.2" stroke="#474747" stroke-width="1.4"/>
<text x="741.30" y="396.00" font-size="12.5" text-anchor="middle" fill="#231f20" font-weight="normal" stroke="#231f20" stroke-width="0.3" >0.25</text>
<line x1="601.2" y1="367.50" x2="607.4" y2="367.50" stroke="#474747" stroke-width="1.4"/>
<text x="595.50" y="372.60" font-size="12.5" text-anchor="end" fill="#231f20" font-weight="normal" stroke="#231f20" stroke-width="0.3" >0.00</text>
<line x1="783.30" y1="375" x2="783.30" y2="382.2" stroke="#474747" stroke-width="1.4"/>
<text x="783.30" y="396.00" font-size="12.5" text-anchor="middle" fill="#231f20" font-weight="normal" stroke="#231f20" stroke-width="0.3" >0.00</text>
<text transform="translate(560.5,283) rotate(-90)" font-size="17.3" text-anchor="middle" fill="#231f20" stroke="#231f20" stroke-width="0.42">Sensitivity</text>
<text x="700.60" y="418.00" font-size="17.3" text-anchor="middle" fill="#231f20" font-weight="normal" stroke="#231f20" stroke-width="0.42" >Specificity</text>
<g stroke="#ebebeb" stroke-width="1.8">
<line x1="645.68" y1="451.8" x2="645.68" y2="640.7"/>
<line x1="699.75" y1="451.8" x2="699.75" y2="640.7"/>
<line x1="753.83" y1="451.8" x2="753.83" y2="640.7"/>
<line x1="609.5" y1="629.00" x2="792.4" y2="629.00"/>
<line x1="609.5" y1="583.40" x2="792.4" y2="583.40"/>
<line x1="609.5" y1="537.80" x2="792.4" y2="537.80"/>
<line x1="609.5" y1="492.20" x2="792.4" y2="492.20"/>
</g>
<defs><linearGradient id="carr" x1="682" y1="0" x2="777" y2="0" gradientUnits="userSpaceOnUse"><stop offset="0" stop-color="#d9d4d4"/><stop offset="0.3" stop-color="#e0a596"/><stop offset="0.6" stop-color="#d9644f"/><stop offset="1" stop-color="#d8382e"/></linearGradient></defs>
<path d="M682.5,630.7 C712,630.5 742,628 769,616.5" stroke="url(#carr)" stroke-width="2.8" fill="none"/>
<path d="M776.80,612.20 L770.06,620.70 L770.49,615.67 L766.01,613.34 Z" fill="#d9382e"/>
<g stroke="#4aa23c" stroke-width="2.6"><line x1="651.25" y1="459.5" x2="651.25" y2="486.75"/><line x1="639.5" y1="473" x2="662.5" y2="473"/></g>
<circle cx="651.25" cy="473" r="3.6" fill="#a9d894" stroke="#4aa23c" stroke-width="1.4"/>
<g stroke="#3a86c0" stroke-width="2.6"><line x1="623" y1="568.7" x2="623" y2="606.3"/><line x1="617.2" y1="587.6" x2="629.8" y2="587.6"/></g>
<circle cx="623" cy="587.6" r="3.6" fill="#9cb9d2" stroke="#3a86c0" stroke-width="1.4"/>
<g stroke="#d8373a" stroke-width="2.6"><line x1="779.2" y1="591.5" x2="779.2" y2="623.5"/><line x1="773.4" y1="607.6" x2="785.6" y2="607.6"/></g>
<circle cx="779.2" cy="607.6" r="3.6" fill="#e9a48a" stroke="#d8373a" stroke-width="1.4"/>
<circle cx="676.25" cy="630.6" r="3.8" fill="#cfcfcf" stroke="#9a9a9a" stroke-width="1.3"/>
<text x="726.90" y="469.50" font-size="13" text-anchor="middle" fill="#58a048" font-weight="normal" stroke="#58a048" stroke-width="0.18" >Negative feedback</text>
<text x="726.90" y="485.00" font-size="13" text-anchor="middle" fill="#58a048" font-weight="normal" stroke="#58a048" stroke-width="0.18" >with TATA</text>
<text x="652.50" y="543.75" font-size="13" text-anchor="middle" fill="#3f8ccb" font-weight="normal" stroke="#3f8ccb" stroke-width="0.18" >No feedback</text>
<text x="652.50" y="558.75" font-size="13" text-anchor="middle" fill="#3f8ccb" font-weight="normal" stroke="#3f8ccb" stroke-width="0.18" >with TATA</text>
<text x="737.30" y="584.20" font-size="13" text-anchor="middle" fill="#d8373a" font-weight="normal" stroke="#d8373a" stroke-width="0.18" >Positive feedback</text>
<text x="737.30" y="599.30" font-size="13" text-anchor="middle" fill="#d8373a" font-weight="normal" stroke="#d8373a" stroke-width="0.18" >with TATA</text>
<text x="616.90" y="634.40" font-size="12.9" text-anchor="start" fill="#9a9a9a" font-weight="normal" stroke="#9a9a9a" stroke-width="0.18" >No TATA</text>
<rect x="608.7" y="451" width="184.5" height="190.5" fill="none" stroke="#474747" stroke-width="1.9"/>
<line x1="601.8" y1="629.00" x2="608.7" y2="629.00" stroke="#474747" stroke-width="1.4"/>
<text x="597.20" y="634.10" font-size="12.5" text-anchor="end" fill="#231f20" font-weight="normal" stroke="#231f20" stroke-width="0.3" >0.6</text>
<line x1="601.8" y1="583.40" x2="608.7" y2="583.40" stroke="#474747" stroke-width="1.4"/>
<text x="597.20" y="588.50" font-size="12.5" text-anchor="end" fill="#231f20" font-weight="normal" stroke="#231f20" stroke-width="0.3" >0.7</text>
<line x1="601.8" y1="537.80" x2="608.7" y2="537.80" stroke="#474747" stroke-width="1.4"/>
<text x="597.20" y="542.90" font-size="12.5" text-anchor="end" fill="#231f20" font-weight="normal" stroke="#231f20" stroke-width="0.3" >0.8</text>
<line x1="601.8" y1="492.20" x2="608.7" y2="492.20" stroke="#474747" stroke-width="1.4"/>
<text x="597.20" y="497.30" font-size="12.5" text-anchor="end" fill="#231f20" font-weight="normal" stroke="#231f20" stroke-width="0.3" >0.9</text>
<line x1="645.68" y1="641.5" x2="645.68" y2="648" stroke="#474747" stroke-width="1.4"/>
<text x="645.68" y="662.50" font-size="12.5" text-anchor="middle" fill="#231f20" font-weight="normal" stroke="#231f20" stroke-width="0.3" >0.25</text>
<line x1="699.75" y1="641.5" x2="699.75" y2="648" stroke="#474747" stroke-width="1.4"/>
<text x="699.75" y="662.50" font-size="12.5" text-anchor="middle" fill="#231f20" font-weight="normal" stroke="#231f20" stroke-width="0.3" >0.50</text>
<line x1="753.83" y1="641.5" x2="753.83" y2="648" stroke="#474747" stroke-width="1.4"/>
<text x="753.83" y="662.50" font-size="12.5" text-anchor="middle" fill="#231f20" font-weight="normal" stroke="#231f20" stroke-width="0.3" >0.75</text>
<text x="668.3" y="685.5" font-size="17" fill="#231f20" stroke="#231f20" stroke-width="0.42">log<tspan font-size="12.5" dy="3.6">10</tspan><tspan font-size="21" dy="-3.6">(</tspan>bf<tspan font-size="21">)</tspan></text>
<text transform="translate(566,582) rotate(-90)" font-size="17.3" fill="#231f20" stroke="#231f20" stroke-width="0.42">log<tspan font-size="13" dy="3.6">10</tspan><tspan font-size="22" dy="-3.6">(</tspan>bs<tspan font-size="22">)</tspan></text>
</svg>
</body></html>
